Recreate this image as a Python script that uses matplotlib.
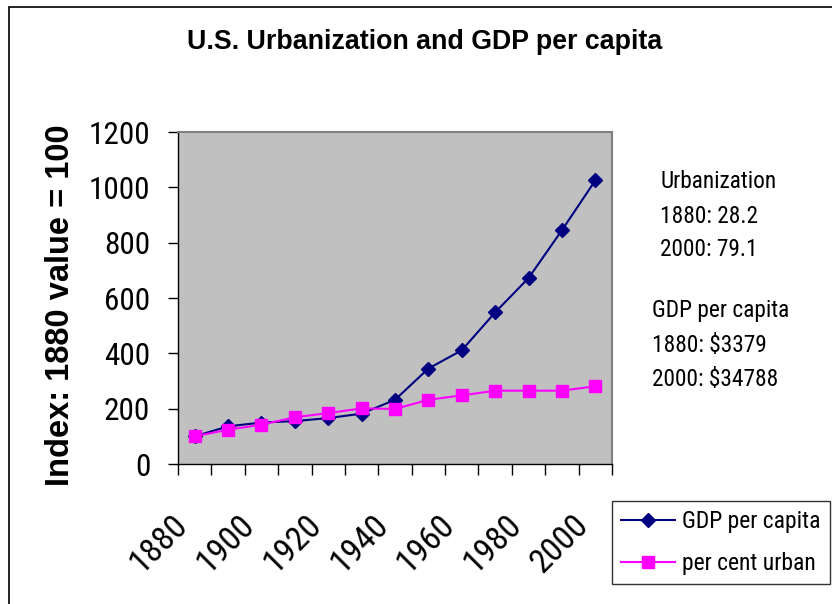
import matplotlib
matplotlib.use("Agg")
import matplotlib.pyplot as plt
from matplotlib.patches import Rectangle
from matplotlib.ticker import FixedLocator
from matplotlib.transforms import ScaledTranslation

years = [1880, 1890, 1900, 1910, 1920, 1930, 1940, 1950, 1960, 1970, 1980, 1990, 2000]
gdp_index = [100, 136, 150, 155, 166, 182, 232, 345, 411, 548, 672, 845, 1025]
urban_index = [100, 124, 142, 169, 184, 201, 199, 232, 248, 265, 265, 265, 281]
tick_years = ["1880", "1900", "1920", "1940", "1960", "1980", "2000"]

narrow = ["Roboto Condensed", "DejaVu Sans"]
arial = ["Liberation Sans", "DejaVu Sans"]

W, H = 832, 604
fig = plt.figure(figsize=(W / 100, H / 100), dpi=100)
fig.patch.set_facecolor("white")

# outer chart frame (cut off at right and bottom)
fig.patches.append(Rectangle((9 / W, -0.1), 1.2, 1 - 7 / H + 0.1, transform=fig.transFigure,
                             fill=False, edgecolor="black", linewidth=1.2))

ax = fig.add_axes([178 / W, 1 - 464 / H, (612 - 178) / W, (464 - 132) / H])
ax.set_facecolor("#c0c0c0")

x = list(range(len(years)))
ax.plot(x, gdp_index, color="#000080", linewidth=1.5, marker="D", markersize=7,
        markerfacecolor="#000080", markeredgecolor="#000080", label="GDP per capita", zorder=3)
ax.plot(x, urban_index, color="#ff00ff", linewidth=1.5, marker="s", markersize=8.5,
        markerfacecolor="#ff00ff", markeredgecolor="#ff00ff", label="per cent urban", zorder=4)

ax.set_xlim(-0.5, len(years) - 0.5)
ax.set_ylim(0, 1200)
ax.set_yticks(range(0, 1201, 200))
ax.set_yticklabels([str(v) for v in range(0, 1201, 200)], family=narrow, fontsize=22.5)
ax.tick_params(axis="y", direction="out", length=7, width=1, color="black", pad=13)

ax.set_xticks(x[::2])
ax.set_xticklabels(tick_years, family=narrow, fontsize=24.5, rotation=45,
                   ha="right", va="center", rotation_mode="anchor")
ax.tick_params(axis="x", which="major", length=0, pad=0)
shift = ScaledTranslation(-0.12, -0.56, fig.dpi_scale_trans)
for lab in ax.get_xticklabels():
    lab.set_transform(lab.get_transform() + shift)
ax.xaxis.set_minor_locator(FixedLocator([i - 0.5 for i in range(len(years) + 1)]))
ax.tick_params(axis="x", which="minor", direction="out", length=8, width=1, color="black")

for side in ["top", "right"]:
    ax.spines[side].set_color("#808080")
    ax.spines[side].set_linewidth(1.5)
for side in ["left", "bottom"]:
    ax.spines[side].set_color("black")
    ax.spines[side].set_linewidth(1.0)

fig.text(425 / W, 1 - 42 / H, "U.S. Urbanization and GDP per capita", family=arial,
         fontsize=19.3, fontweight="bold", ha="center", va="center")
fig.text(61 / W, 1 - 305 / H, "Index: 1880 value = 100", family=arial, fontsize=23.5,
         fontweight="bold", rotation=90, ha="center", va="center")

notes = [("Urbanization", 660, 182), ("1880: 28.2", 660, 216), ("2000: 79.1", 660, 250),
         ("GDP per capita", 652, 311), ("1880: $3379", 652, 346), ("2000: $34788", 652, 379)]
for txt, tx, ty in notes:
    fig.text(tx / W, 1 - ty / H, txt, family=narrow, fontsize=16.8, ha="left", va="center")

leg = fig.legend(loc="upper left", bbox_to_anchor=(612 / W, 1 - 501 / H), frameon=True,
                 fancybox=False, edgecolor="black", prop={"family": narrow, "size": 17},
                 handlelength=2.25, handletextpad=0.3, borderpad=0.4, labelspacing=0.78,
                 borderaxespad=0)
leg.get_frame().set_linewidth(1.0)

fig.savefig("out.png", dpi=100, facecolor="white")
